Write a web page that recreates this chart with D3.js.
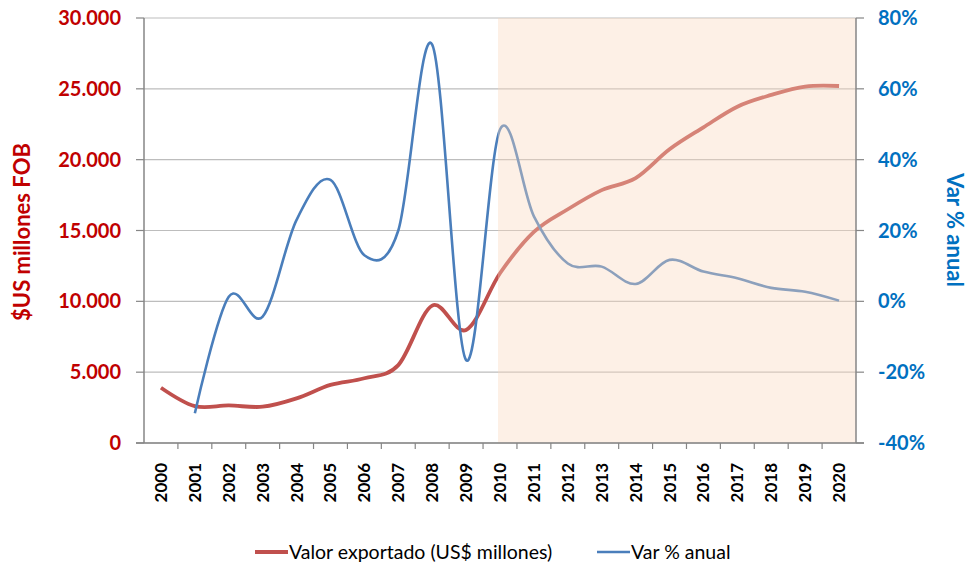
<!DOCTYPE html>
<html>
<head>
<meta charset="utf-8">
<script src="https://cdn.jsdelivr.net/npm/d3@7"></script>
<style>
  body { margin: 0; background: #fff; }
  text { font-family: Lato, "Open Sans", sans-serif; }
</style>
</head>
<body>
<script>
// years on the x axis
var years = ['2000','2001','2002','2003','2004','2005','2006','2007','2008','2009','2010',
             '2011','2012','2013','2014','2015','2016','2017','2018','2019','2020'];

// valor exportado, US$ millones
var valor = [3900, 2600, 2650, 2560, 3150, 4100, 4570, 5500, 9700, 7980, 11980,
             14900, 16500, 17850, 18700, 20730, 22280, 23740, 24570, 25160, 25200];

// variacion % anual (2000 sin dato)
var varAnual = [null, -31.6, 1.3, -4.3, 23, 34.3, 13, 20, 72.5, -16.6, 48.5,
                24, 10.7, 9.8, 4.9, 11.7, 8.4, 6.5, 3.8, 2.7, 0.2];

var leftTicks = [0, 5000, 10000, 15000, 20000, 25000, 30000];
var rightTicks = [-40, -20, 0, 20, 40, 60, 80];
var shadeFrom = '2010';

var W = 977, H = 562;
var margins = { top: 18, bottom: 119, left: 144, right: 121 };
var x0 = margins.left, x1 = W - margins.right;
var y0 = H - margins.bottom, y1 = margins.top;

var svg = d3.select('body').append('svg')
            .attr('width', W)
            .attr('height', H);

var xscale = d3.scaleBand().domain(years).range([x0, x1]);
var yleft = d3.scaleLinear().domain([0, 30000]).range([y0, y1]);
var yright = d3.scaleLinear().domain([-40, 80]).range([y0, y1]);
var cx = function(y){ return xscale(y) + xscale.bandwidth()/2; };

var fmt = function(d){ return d3.format(',')(d).replace(/,/g, '.'); };

// gridlines
svg.selectAll('.grid').data(leftTicks).enter()
   .append('line')
   .attr('x1', x0).attr('x2', x1)
   .attr('y1', function(d){ return yleft(d); })
   .attr('y2', function(d){ return yleft(d); })
   .attr('stroke', '#BDBDBD')
   .attr('stroke-width', 1.2);

// lines
var redLine = d3.line()
   .x(function(d,i){ return cx(years[i]); })
   .y(function(d){ return yleft(d); })
   .curve(d3.curveCatmullRom.alpha(0));

var blueLine = d3.line()
   .defined(function(d){ return d !== null; })
   .x(function(d,i){ return cx(years[i]); })
   .y(function(d){ return yright(d); })
   .curve(d3.curveCatmullRom.alpha(0));

svg.append('path').datum(valor)
   .attr('d', redLine)
   .attr('fill', 'none')
   .attr('stroke', '#C0504D')
   .attr('stroke-width', 3.8)
   .attr('stroke-linejoin', 'round');

svg.append('path').datum(varAnual)
   .attr('d', blueLine)
   .attr('fill', 'none')
   .attr('stroke', '#4A7EBB')
   .attr('stroke-width', 2.6)
   .attr('stroke-linejoin', 'round');

// shaded projection period, drawn over the lines
svg.append('rect')
   .attr('x', cx(shadeFrom) - 2)
   .attr('y', y1)
   .attr('width', x1 - cx(shadeFrom) + 2)
   .attr('height', y0 - y1)
   .attr('fill', '#F9D7BC')
   .attr('opacity', 0.38);

// axes lines
svg.append('line').attr('x1', x0).attr('x2', x0).attr('y1', y1).attr('y2', y0)
   .attr('stroke', '#868686').attr('stroke-width', 1.5);
svg.append('line').attr('x1', x1).attr('x2', x1).attr('y1', y1).attr('y2', y0)
   .attr('stroke', '#868686').attr('stroke-width', 1.5);
svg.append('line').attr('x1', x0 - 8).attr('x2', x1 + 8).attr('y1', y0).attr('y2', y0)
   .attr('stroke', '#868686').attr('stroke-width', 1.5);

// left ticks + labels
svg.selectAll('.ltick').data(leftTicks).enter()
   .append('line')
   .attr('x1', x0 - 8).attr('x2', x0)
   .attr('y1', function(d){ return yleft(d); })
   .attr('y2', function(d){ return yleft(d); })
   .attr('stroke', '#868686').attr('stroke-width', 1.2);

svg.selectAll('.ltext').data(leftTicks).enter()
   .append('text')
   .attr('x', x0 - 23)
   .attr('y', function(d){ return yleft(d) + 7; })
   .attr('text-anchor', 'end')
   .attr('fill', '#C00000')
   .attr('font-weight', 'bold')
   .attr('font-size', 20)
   .text(function(d){ return fmt(d); });

// right ticks + labels
svg.selectAll('.rtick').data(rightTicks).enter()
   .append('line')
   .attr('x1', x1).attr('x2', x1 + 8)
   .attr('y1', function(d){ return yright(d); })
   .attr('y2', function(d){ return yright(d); })
   .attr('stroke', '#868686').attr('stroke-width', 1.2);

svg.selectAll('.rtext').data(rightTicks).enter()
   .append('text')
   .attr('x', x1 + 22)
   .attr('y', function(d){ return yright(d) + 7; })
   .attr('fill', '#0070C0')
   .attr('font-weight', 'bold')
   .attr('font-size', 20)
   .text(function(d){ return d + '%'; });

// bottom ticks between categories
svg.selectAll('.btick').data(years.slice(1)).enter()
   .append('line')
   .attr('x1', function(d){ return xscale(d); })
   .attr('x2', function(d){ return xscale(d); })
   .attr('y1', y0).attr('y2', y0 + 6)
   .attr('stroke', '#868686').attr('stroke-width', 1.2);

svg.selectAll('.xtext').data(years).enter()
   .append('text')
   .attr('transform', function(d){ return 'translate(' + (cx(d) + 6) + ',' + (y0 + 20) + ') rotate(-90)'; })
   .attr('text-anchor', 'end')
   .attr('font-weight', 'bold')
   .attr('font-size', 17)
   .attr('fill', '#000')
   .text(function(d){ return d; });

// axis titles
svg.append('text')
   .attr('transform', 'translate(30,232) rotate(-90)')
   .attr('text-anchor', 'middle')
   .attr('fill', '#C00000')
   .attr('font-weight', 'bold')
   .attr('font-size', 22)
   .text('$US millones FOB');

svg.append('text')
   .attr('transform', 'translate(947,230) rotate(90)')
   .attr('text-anchor', 'middle')
   .attr('fill', '#0070C0')
   .attr('font-weight', 'bold')
   .attr('font-size', 22)
   .text('Var % anual');

// legend
var legend = [
  { name: 'Valor exportado (US$ millones)', color: '#C0504D', w: 3.8, x: 255 },
  { name: 'Var % anual', color: '#4A7EBB', w: 2.6, x: 597 }
];
var lg = svg.selectAll('.legend').data(legend).enter().append('g')
   .attr('transform', function(d){ return 'translate(' + d.x + ',552)'; });
lg.append('line')
   .attr('x1', 0).attr('x2', 33).attr('y1', 0).attr('y2', 0)
   .attr('stroke', function(d){ return d.color; })
   .attr('stroke-width', function(d){ return d.w; });
lg.append('text')
   .attr('x', 34).attr('y', 7)
   .attr('font-size', 19.5)
   .attr('fill', '#000')
   .text(function(d){ return d.name; });
</script>
</body>
</html>
